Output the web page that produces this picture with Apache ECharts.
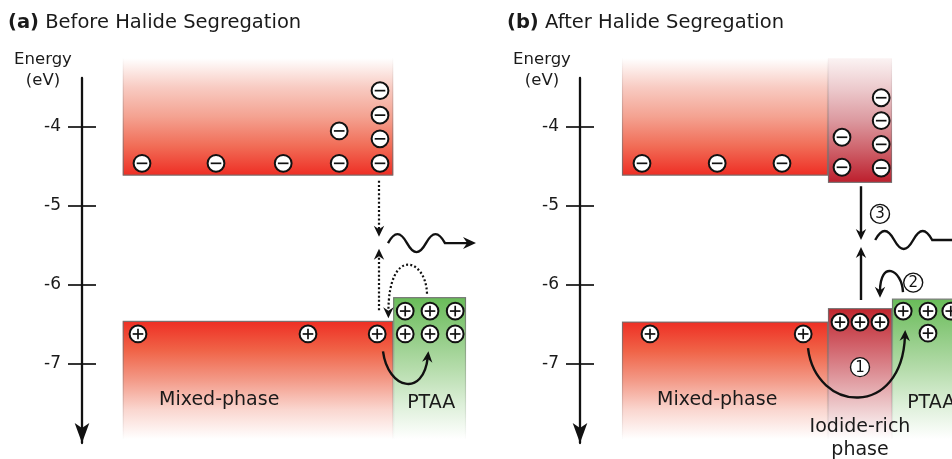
<!DOCTYPE html>
<html><head><meta charset="utf-8">
<script src="https://cdn.jsdelivr.net/npm/echarts@6/dist/echarts.min.js"></script>
<style>html,body{margin:0;padding:0;background:#fff}#c{width:952px;height:459px}</style>
</head><body><div id="c"></div>
<script>
const FONT = 'DejaVu Sans';
const INK = '#1a1a1a';
// ---------- data ----------
const energyTicks = [-4, -5, -6, -7];
const panelTitles = [['(a)', 'Before Halide Segregation'], ['(b)', 'After Halide Segregation']];
// bands: [x0, x1, edgeEnergy, fadeEnergy, paletteIndex]  (x in layer units)
const bandsA = [
  [10.2, 77.8, -4.61, -3.13, 0],   // mixed-phase CB
  [10.2, 77.8, -6.46, -7.95, 1],   // mixed-phase VB
  [77.8, 96.0, -6.16, -7.95, 2]    // PTAA HOMO
];
const bandsB = [
  [10.5, 62.0, -4.61, -3.13, 0],   // mixed-phase CB
  [62.0, 78.0, -4.70, -3.13, 3],   // iodide-rich CB
  [10.5, 62.0, -6.47, -7.95, 1],   // mixed-phase VB
  [62.0, 78.0, -6.30, -7.95, 4],   // iodide-rich VB
  [78.0, 100.0, -6.18, -7.95, 2]   // PTAA HOMO
];
const electronsA = [[15, -4.46], [33.5, -4.46], [50.3, -4.46], [64.3, -4.46], [64.3, -4.05],
  [74.5, -4.46], [74.5, -4.15], [74.5, -3.85], [74.5, -3.54]];
const holesA = [[14, -6.62], [56.5, -6.62], [73.8, -6.62],
  [80.8, -6.33], [87, -6.33], [93.3, -6.33], [80.8, -6.62], [87, -6.62], [93.3, -6.62]];
const electronsB = [[15.5, -4.46], [34.3, -4.46], [50.5, -4.46],
  [65.5, -4.51], [65.5, -4.13], [75.3, -4.52], [75.3, -4.22], [75.3, -3.92], [75.3, -3.63]];
const holesB = [[17.5, -6.62], [55.8, -6.62], [65, -6.47], [70, -6.47], [75, -6.47],
  [80.8, -6.33], [87, -6.33], [92.7, -6.33], [87, -6.61]];
const labelsA = [['Mixed-phase', 34.3, -7.46], ['PTAA', 87.3, -7.49]];
const labelsB = [['Mixed-phase', 34.3, -7.46], ['PTAA', 87.8, -7.49], ['Iodide-rich', 70, -7.80], ['phase', 70, -8.09]];
// arrows: dashed flag + control points (2 = straight, 4 = cubic)
const arrowsA = [
  [true, [[74.25, -4.68], [74.25, -5.39]]],
  [true, [[74.25, -6.32], [74.25, -5.54]]],
  [true, [[86.25, -6.11], [86.0, -5.66], [76.6, -5.58], [76.6, -6.42]]],
  [false, [[75.25, -6.84], [76.5, -7.32], [85.5, -7.35], [86.6, -6.84]]]
];
const arrowsB = [
  [false, [[70.25, -4.75], [70.25, -5.43]]],
  [false, [[70.25, -6.19], [70.25, -5.52]]],
  [false, [[80.75, -6.09], [80.5, -5.80], [75.0, -5.75], [75.0, -6.16]]],
  [false, [[57.0, -6.80], [59.0, -7.62], [80.5, -7.62], [81.3, -6.57]]]
];
// photon emission: [start x, energy, arrow tip x]
const wavesA = [[76.5, -5.47, 98.5]];
const wavesB = [[73.8, -5.43, 99.0]];
const stepsB = [['1', 70, -7.04], ['2', 83.3, -5.97], ['3', 75, -5.10]];

// ---------- styles ----------
const palettes = [
  { dir: 'up', stops: ['#ffffff', '#f8cbc2', '#f4a291', '#f16d57', '#ee2e24'] },
  { dir: 'down', stops: ['#ee2f24', '#f06448', '#f39a88', '#fad6cf', '#ffffff'] },
  { dir: 'down', stops: ['#69bc59', '#8fcb82', '#b5dcab', '#dcefd8', '#ffffff'] },
  { dir: 'up', stops: ['#fbf3f3', '#ecc9cc', '#dc9aa0', '#cd5f68', '#bd1f2d'] },
  { dir: 'down', stops: ['#c0262e', '#cf5a63', '#dd9197', '#edc9cb', '#ffffff'] }
];
function grad(stops) {
  return { type: 'linear', x: 0, y: 0, x2: 0, y2: 1,
    colorStops: stops.map((c, i) => ({ offset: i / (stops.length - 1), color: c })) };
}
function bandItem(b, api) {
  const p = palettes[b[4]];
  const tl = api.coord([b[0], Math.max(b[2], b[3])]);
  const br = api.coord([b[1], Math.min(b[2], b[3])]);
  const yEdge = api.coord([b[0], b[2]])[1], yFade = api.coord([b[0], b[3]])[1];
  const edgeStroke = p.dir === 'up'
    ? grad(['rgba(120,120,120,0)', 'rgba(120,120,120,0.35)', 'rgba(110,110,110,0.9)'])
    : grad(['rgba(110,110,110,0.9)', 'rgba(120,120,120,0.35)', 'rgba(120,120,120,0)']);
  return { type: 'group', children: [
    { type: 'rect', shape: { x: tl[0], y: tl[1], width: br[0] - tl[0], height: br[1] - tl[1] },
      style: { fill: grad(p.stops) } },
    { type: 'polyline', shape: { points: [[tl[0] + 0.5, yFade], [tl[0] + 0.5, yEdge], [br[0] - 0.5, yEdge], [br[0] - 0.5, yFade]] },
      style: { fill: null, stroke: edgeStroke, lineWidth: 1.2 } }
  ] };
}
function particle(c, plus) {
  const r = 8.4, s = 5.3;
  const ch = [
    { type: 'circle', shape: { cx: c[0], cy: c[1], r }, style: { fill: '#fff', stroke: '#111', lineWidth: 2 } },
    { type: 'line', shape: { x1: c[0] - s, y1: c[1], x2: c[0] + s, y2: c[1] }, style: { stroke: '#111', lineWidth: 1.7 } }
  ];
  if (plus) ch.push({ type: 'line', shape: { x1: c[0], y1: c[1] - s, x2: c[0], y2: c[1] + s }, style: { stroke: '#111', lineWidth: 1.7 } });
  return { type: 'group', children: ch };
}
function head(tip, from, len, half) {
  const dx = tip[0] - from[0], dy = tip[1] - from[1], d = Math.hypot(dx, dy) || 1;
  const ux = dx / d, uy = dy / d, px = -uy, py = ux;
  const bx = tip[0] - ux * len, by = tip[1] - uy * len;
  const nx = tip[0] - ux * len * 0.68, ny = tip[1] - uy * len * 0.68;
  return { type: 'polygon', shape: { points: [tip, [bx + px * half, by + py * half], [nx, ny], [bx - px * half, by - py * half]] },
    style: { fill: '#111' } };
}
function arrowItem(a, api) {
  const dashed = a[0];
  const P = a[1].map(p => api.coord(p));
  const n = P.length, tip = P[n - 1], prev = P[n - 2];
  const dx = tip[0] - prev[0], dy = tip[1] - prev[1], d = Math.hypot(dx, dy) || 1;
  const sh = 6;
  const end = [tip[0] - dx / d * sh, tip[1] - dy / d * sh];
  let path;
  if (n === 2) path = `M${P[0][0]} ${P[0][1]} L${end[0]} ${end[1]}`;
  else {
    const c2 = [P[2][0] - dx / d * sh, P[2][1] - dy / d * sh];
    path = `M${P[0][0]} ${P[0][1]} C${P[1][0]} ${P[1][1]} ${c2[0]} ${c2[1]} ${end[0]} ${end[1]}`;
  }
  return { type: 'group', children: [
    { type: 'path', shape: { pathData: path },
      style: { fill: null, stroke: '#111', lineWidth: dashed ? 2.2 : 2.4, lineDash: dashed ? [2, 2.2] : null, lineCap: 'butt' } },
    head(tip, prev, 11, 5.2)
  ] };
}
function waveItem(w, api) {
  const s = api.coord([w[0], w[1]]), t = api.coord([w[2], w[1]]);
  const hw = 19, A = 9;
  let x = s[0], y = s[1], p = `M${x} ${y}`;
  [-1, 1, -1].forEach(dir => {
    p += ` C${x + 0.35 * hw} ${y + dir * 1.33 * A} ${x + 0.65 * hw} ${y + dir * 1.33 * A} ${x + hw} ${y}`;
    x += hw;
  });
  p += ` L${t[0] - 8} ${y}`;
  return { type: 'group', children: [
    { type: 'path', shape: { pathData: p }, style: { fill: null, stroke: '#111', lineWidth: 2.4 } },
    head(t, [t[0] - 10, y], 13, 6)
  ] };
}
function stepItem(s, api) {
  const c = api.coord([s[1], s[2]]);
  return { type: 'group', children: [
    { type: 'circle', shape: { cx: c[0], cy: c[1], r: 9.5 }, style: { fill: '#fff', stroke: '#111', lineWidth: 1.4 } },
    { type: 'text', x: c[0], y: c[1] + 0.5, style: { text: s[0], fill: '#111', font: `15px "${FONT}"`, align: 'center', verticalAlign: 'middle' } }
  ] };
}
function labelItem(l, api) {
  const c = api.coord([l[1], l[2]]);
  return { type: 'text', x: c[0], y: c[1], style: { text: l[0], fill: INK, font: `19px "${FONT}"`, align: 'center', verticalAlign: 'middle' } };
}
function custom(grid, arr, fn, z) {
  return { type: 'custom', xAxisIndex: grid, yAxisIndex: grid * 2, clip: false, silent: true, z,
    data: arr.map((_, i) => [i]),
    renderItem: (params, api) => fn(arr[api.value(0)], api) };
}

// ---------- chart ----------
const chart = echarts.init(document.getElementById('c'), null, { renderer: 'canvas' });
const axisLefts = [82, 580];
const gridWidths = [400, 368];          // 4 px per layer unit in both panels
const grids = axisLefts.map((l, i) => ({ left: l, top: 78, width: gridWidths[i], height: 365 }));
const xAxes = axisLefts.map((_, i) => ({ type: 'value', gridIndex: i, min: 0, max: gridWidths[i] / 4, show: false }));
const yAxes = [];
axisLefts.forEach((_, i) => {
  yAxes.push({ type: 'value', gridIndex: i, position: 'left', min: -8, max: -3.38, interval: 1,
    axisLine: { show: true, onZero: false, symbol: ['arrow', 'none'], symbolSize: [11, 20], lineStyle: { color: '#111', width: 2.3 } },
    axisTick: { show: true, length: 14, customValues: energyTicks, lineStyle: { color: '#111', width: 1.7 } },
    axisLabel: { show: true, margin: 21, customValues: energyTicks, color: INK, fontFamily: FONT, fontSize: 17 },
    splitLine: { show: false } });
  yAxes.push({ type: 'value', gridIndex: i, position: 'left', offset: 0, min: -8, max: -3.38, interval: 1,
    axisLine: { show: false },
    axisTick: { show: true, inside: true, length: 14, customValues: energyTicks, lineStyle: { color: '#111', width: 1.7 } },
    axisLabel: { show: false }, splitLine: { show: false } });
});
const series = [
  custom(0, bandsA, bandItem, 1), custom(1, bandsB, bandItem, 1),
  custom(0, labelsA, labelItem, 2), custom(1, labelsB, labelItem, 2),
  custom(0, arrowsA, arrowItem, 3), custom(1, arrowsB, arrowItem, 3),
  custom(0, wavesA, waveItem, 3), custom(1, wavesB, waveItem, 3),
  custom(0, electronsA, (c, api) => particle(api.coord(c), false), 4),
  custom(0, holesA, (c, api) => particle(api.coord(c), true), 4),
  custom(1, electronsB, (c, api) => particle(api.coord(c), false), 4),
  custom(1, holesB, (c, api) => particle(api.coord(c), true), 4),
  custom(1, stepsB, stepItem, 5)
];
const titleX = [8, 507], energyX = [43, 542];
const graphic = [];
panelTitles.forEach((t, i) => {
  graphic.push({ type: 'text', x: titleX[i], y: 23, style: {
    text: `{b|${t[0]}} ${t[1]}`, fill: INK, fontFamily: FONT, fontSize: 19.5, verticalAlign: 'middle', align: 'left',
    rich: { b: { fontFamily: FONT, fontSize: 19.5, fontWeight: 'bold', fill: INK } } } });
  graphic.push({ type: 'text', x: energyX[i], y: 70, style: {
    text: 'Energy\n(eV)', fill: INK, fontFamily: FONT, fontSize: 16.5, lineHeight: 21, align: 'center', verticalAlign: 'middle' } });
});
chart.setOption({ animation: false, backgroundColor: '#fff', grid: grids, xAxis: xAxes, yAxis: yAxes, series, graphic });
</script></body></html>
